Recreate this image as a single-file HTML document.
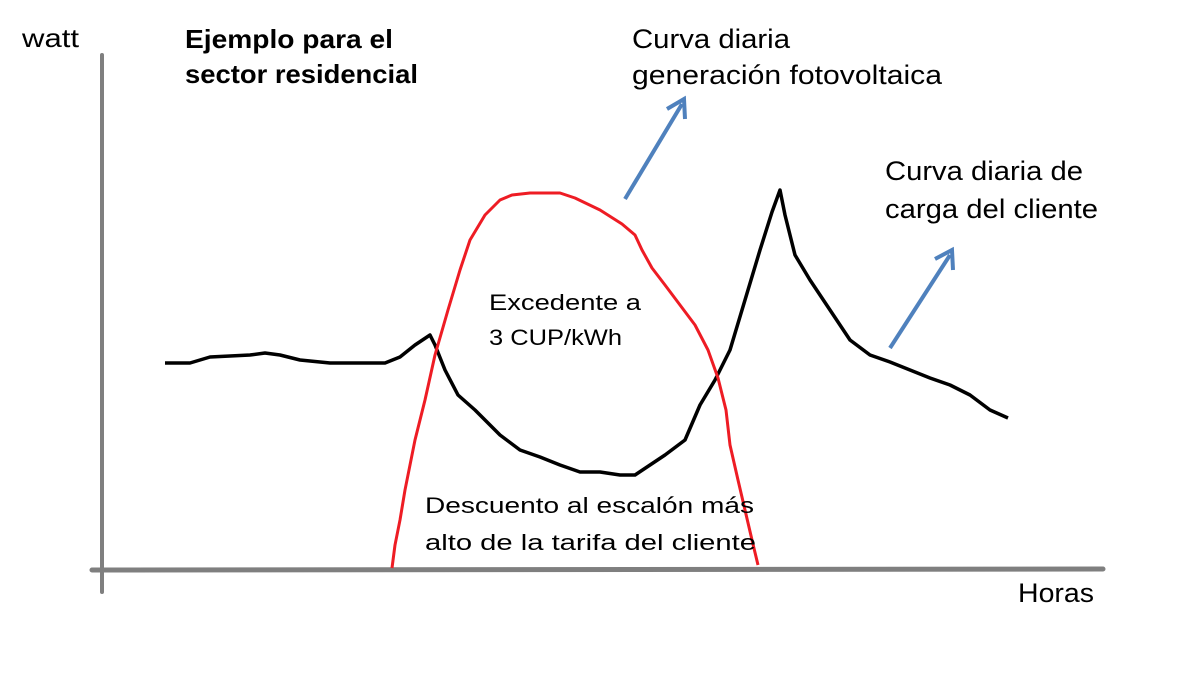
<!DOCTYPE html>
<html><head><meta charset="utf-8"><style>
html,body{margin:0;padding:0;background:#fff;}
svg{display:block;}
text{font-family:"Liberation Sans",sans-serif;fill:#000;}
</style></head><body>
<svg width="1200" height="689" viewBox="0 0 1200 689" xmlns="http://www.w3.org/2000/svg">
<rect width="1200" height="689" fill="#fff"/>
<line x1="102" y1="55" x2="102" y2="592" stroke="#7f7f7f" stroke-width="4" stroke-linecap="round"/>
<line x1="92" y1="570" x2="1103" y2="569" stroke="#7f7f7f" stroke-width="5" stroke-linecap="round"/>
<polyline fill="none" stroke="#000" stroke-width="3.5" stroke-linejoin="round" points="165,363 190,363 200,360 210,357 250,355 265,353 280,355 300,360 330,363 385,363 400,357 415,345 430,335 435,345 445,370 458,395 475,410 490,425 500,435 520,450 540,457 560,465 580,472 600,472 620,475 635,475 650,465 665,455 685,440 700,405 715,380 730,350 745,300 760,250 772,212 780,190 785,215 795,255 810,280 830,310 850,340 870,355 890,362 910,370 930,378 950,385 970,395 990,410 1008,418"/>
<polyline fill="none" stroke="#ee1c24" stroke-width="3" stroke-linejoin="round" points="392,568 395,545 400,520 405,490 415,440 425,400 435,355 448,310 460,270 470,240 485,215 500,200 512,195 530,193 560,193 575,198 600,210 622,224 635,235 642,250 652,268 665,285 680,305 695,325 708,350 718,378 726,410 730,445 738,480 745,510 752,540 758,565"/>
<g stroke="#4f81bd" stroke-width="4" fill="none" stroke-linecap="butt">
<line x1="625" y1="199" x2="682" y2="104"/>
<polyline points="667,109 684,99 685,119"/>
<line x1="890" y1="348" x2="950" y2="255"/>
<polyline points="935,259 952,250 953,270"/>
</g>
<text x="22" y="47" font-size="26" textLength="57" lengthAdjust="spacingAndGlyphs">watt</text>
<text x="185" y="48" font-size="26" font-weight="bold" textLength="208" lengthAdjust="spacingAndGlyphs">Ejemplo para el</text>
<text x="185" y="83" font-size="26" font-weight="bold" textLength="233" lengthAdjust="spacingAndGlyphs">sector residencial</text>
<text x="632" y="48" font-size="27" textLength="158" lengthAdjust="spacingAndGlyphs">Curva diaria</text>
<text x="632" y="84" font-size="27" textLength="310" lengthAdjust="spacingAndGlyphs">generación fotovoltaica</text>
<text x="885" y="180" font-size="27" textLength="198" lengthAdjust="spacingAndGlyphs">Curva diaria de</text>
<text x="885" y="218" font-size="27" textLength="213" lengthAdjust="spacingAndGlyphs">carga del cliente</text>
<text x="1018" y="602" font-size="27" textLength="76" lengthAdjust="spacingAndGlyphs">Horas</text>
<text x="489" y="310" font-size="22" textLength="152" lengthAdjust="spacingAndGlyphs">Excedente a</text>
<text x="489" y="345" font-size="22" textLength="133" lengthAdjust="spacingAndGlyphs">3 CUP/kWh</text>
<text x="425" y="513" font-size="22" textLength="329" lengthAdjust="spacingAndGlyphs">Descuento al escalón más</text>
<text x="425" y="550" font-size="22" textLength="331" lengthAdjust="spacingAndGlyphs">alto de la tarifa del cliente</text>
</svg>
</body></html>
